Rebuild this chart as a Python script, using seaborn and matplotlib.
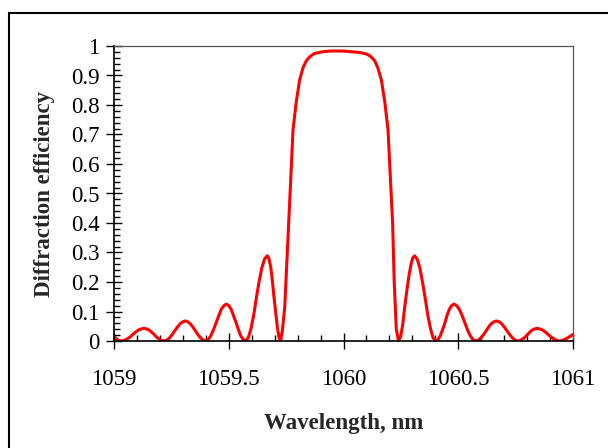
import matplotlib
matplotlib.use("Agg")
import matplotlib.pyplot as plt
import seaborn as sns
from matplotlib.ticker import MultipleLocator, FuncFormatter
from matplotlib.patches import Rectangle

# wavelength (nm) and diffraction efficiency, lobe by lobe
wavelength = [
    1059.000, 1059.008, 1059.016, 1059.024, 1059.032,
    1059.044, 1059.057, 1059.069, 1059.082, 1059.094, 1059.106, 1059.119, 1059.131,
    1059.142, 1059.153, 1059.164, 1059.175, 1059.186, 1059.196, 1059.207, 1059.218,
    1059.230, 1059.241, 1059.253, 1059.264, 1059.276, 1059.288, 1059.299, 1059.311,
    1059.322, 1059.333, 1059.344, 1059.355, 1059.366, 1059.378, 1059.389, 1059.400,
    1059.411, 1059.422, 1059.434, 1059.445, 1059.456, 1059.467, 1059.479, 1059.490,
    1059.500, 1059.511, 1059.521, 1059.532, 1059.542, 1059.552, 1059.563, 1059.573,
    1059.585, 1059.597, 1059.609, 1059.620, 1059.632, 1059.644, 1059.656, 1059.668,
    1059.675, 1059.683, 1059.690, 1059.697, 1059.705, 1059.712, 1059.719, 1059.726,
    1059.734, 1059.744, 1059.751, 1059.758, 1059.769, 1059.780, 1059.794, 1059.809,
    1059.823, 1059.838, 1059.855, 1059.875, 1059.905, 1059.940, 1059.998, 1060.042,
    1060.070, 1060.100, 1060.118, 1060.136, 1060.150, 1060.165, 1060.180, 1060.194,
    1060.206, 1060.214, 1060.221, 1060.230, 1060.240,
    1060.249, 1060.258, 1060.266, 1060.275, 1060.284, 1060.293, 1060.301, 1060.310,
    1060.321, 1060.333, 1060.344, 1060.356, 1060.367, 1060.379, 1060.390, 1060.402,
    1060.412, 1060.422, 1060.432, 1060.442, 1060.451, 1060.461, 1060.471, 1060.481,
    1060.493, 1060.505, 1060.517, 1060.529, 1060.540, 1060.552, 1060.564, 1060.576,
    1060.587, 1060.598, 1060.610, 1060.621, 1060.632, 1060.643, 1060.655, 1060.666,
    1060.678, 1060.690, 1060.701, 1060.713, 1060.725, 1060.737, 1060.748, 1060.760,
    1060.770, 1060.781, 1060.791, 1060.802, 1060.812, 1060.822, 1060.833, 1060.843,
    1060.855, 1060.868, 1060.880, 1060.892, 1060.905, 1060.917, 1060.930, 1060.942,
    1060.958, 1060.973, 1060.988, 1061.004,
]
efficiency = [
    0.015, 0.009, 0.004, 0.001, 0.000,
    0.002, 0.007, 0.013, 0.022, 0.030, 0.037, 0.041, 0.043,
    0.041, 0.037, 0.030, 0.022, 0.013, 0.007, 0.002, 0.000,
    0.003, 0.010, 0.021, 0.034, 0.047, 0.058, 0.065, 0.068,
    0.065, 0.058, 0.047, 0.034, 0.021, 0.010, 0.003, 0.000,
    0.005, 0.018, 0.039, 0.062, 0.086, 0.107, 0.120, 0.125,
    0.120, 0.107, 0.086, 0.062, 0.039, 0.018, 0.005, 0.000,
    0.011, 0.042, 0.089, 0.145, 0.200, 0.247, 0.278, 0.289,
    0.280, 0.250, 0.205, 0.150, 0.095, 0.045, 0.012, 0.000,
    0.037, 0.116, 0.230, 0.345, 0.530, 0.716, 0.810, 0.885,
    0.925, 0.950, 0.965, 0.975, 0.980, 0.983, 0.983, 0.980,
    0.978, 0.973, 0.965, 0.950, 0.925, 0.885, 0.810, 0.716,
    0.530, 0.400, 0.200, 0.040, 0.000,
    0.015, 0.055, 0.110, 0.165, 0.215, 0.255, 0.280, 0.289,
    0.278, 0.247, 0.200, 0.145, 0.089, 0.042, 0.011, 0.000,
    0.005, 0.018, 0.039, 0.062, 0.086, 0.107, 0.120, 0.125,
    0.120, 0.107, 0.086, 0.062, 0.039, 0.018, 0.005, 0.000,
    0.003, 0.010, 0.021, 0.034, 0.047, 0.058, 0.065, 0.068,
    0.065, 0.058, 0.047, 0.034, 0.021, 0.010, 0.003, 0.000,
    0.002, 0.007, 0.013, 0.022, 0.030, 0.037, 0.041, 0.043,
    0.041, 0.037, 0.030, 0.022, 0.013, 0.007, 0.002, 0.000,
    0.003, 0.009, 0.016, 0.024,
]

sns.set_style("ticks")
plt.rcParams['font.family'] = ['Liberation Serif', 'DejaVu Serif']

fig = plt.figure(figsize=(6.08, 4.48), dpi=100)
ax = fig.add_axes([114 / 608, 1 - 341 / 448, (573 - 114) / 608, (341 - 46) / 448])

sns.lineplot(x=wavelength, y=efficiency, ax=ax, color='red', linewidth=2.2,
             sort=False, estimator=None, solid_joinstyle='round')

ax.set_xlim(1059, 1061)
ax.set_ylim(0, 1)
ax.xaxis.set_major_locator(MultipleLocator(0.5))
ax.xaxis.set_minor_locator(MultipleLocator(0.1))
ax.yaxis.set_major_locator(MultipleLocator(0.1))
ax.yaxis.set_minor_locator(MultipleLocator(0.02))
fmt = FuncFormatter(lambda v, p: '{:g}'.format(round(v, 2)))
ax.xaxis.set_major_formatter(fmt)
ax.yaxis.set_major_formatter(fmt)

ax.tick_params(which='major', direction='inout', length=11, width=1, color='black',
               labelsize=16.5, labelcolor='black')
ax.tick_params(which='minor', direction='in', length=4, width=1, color='black')
ax.tick_params(axis='x', which='major', pad=15)
ax.tick_params(axis='y', which='major', pad=5)

for side in ['left', 'bottom']:
    ax.spines[side].set_color('black')
    ax.spines[side].set_linewidth(1.2)
for side in ['top', 'right']:
    ax.spines[side].set_visible(True)
    ax.spines[side].set_color('#555555')
    ax.spines[side].set_linewidth(0.9)

ax.set_xlabel('Wavelength, nm', fontsize=16.5, fontweight='bold')
ax.set_ylabel('Diffraction efficiency', fontsize=16.5, fontweight='bold')
ax.xaxis.set_label_coords(0.5, -0.245)
ax.yaxis.set_label_coords(-0.128, 0.5)

fig.add_artist(Rectangle((8.5 / 608, -0.2), 1.5, 1.2 - 12.5 / 448, transform=fig.transFigure,
                         fill=False, edgecolor='black', linewidth=1.5))

fig.savefig('out.png', dpi=100)
